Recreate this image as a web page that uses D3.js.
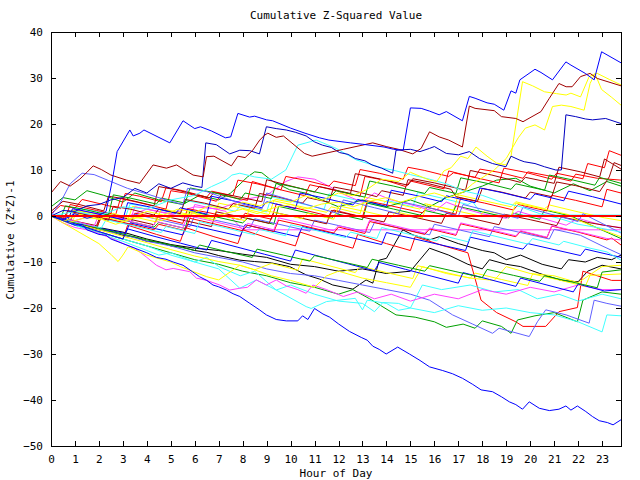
<!DOCTYPE html>
<html><head><meta charset="utf-8">
<script src="https://cdn.jsdelivr.net/npm/d3@7/dist/d3.min.js"></script>
<style>body{margin:0;background:#fff}text{font-family:"DejaVu Sans Mono",monospace;font-size:11px;fill:#000}</style>
</head><body><svg id="c" width="640" height="480"></svg>
<script>
const chartTitle = "Cumulative Z-Squared Value";
const xTitle = "Hour of Day";
const yTitle = "Cumulative (Z*Z)-1";
const hourTicks = [0,1,2,3,4,5,6,7,8,9,10,11,12,13,14,15,16,17,18,19,20,21,22,23];
const valueTicks = [-50,-40,-30,-20,-10,0,10,20,30,40];
const lastHour = 23.79;

// each series: [hour, cumulative value] vertices
const sTopBlue = [[0,0],[0.5,-0.8],[1,0.5],[1.5,-0.5],[2,0.2],[2.3,1],[2.55,7.5],[2.76,14],[3.29,18.7],[3.43,17.4],[3.71,18],[3.88,18.7],[4.96,15.9],[5.51,20.7],[6.0,19],[6.24,19.4],[6.69,18.5],[7.28,17],[7.5,17.2],[7.8,22.3],[8.29,21.5],[8.5,21.7],[9.0,20.9],[9.25,20.7],[10,19.1],[10.6,18],[11.2,17],[11.6,16.5],[12.5,15.9],[13,15.6],[13.9,15],[14.3,14.5],[14.7,14.3],[15.0,23.5],[15.45,23.4],[15.8,22.8],[16.2,22],[16.5,22.7],[17.17,20.7],[17.46,26],[17.7,25.6],[18.2,24.6],[18.5,24.3],[18.9,23],[19.2,27.2],[19.4,26.7],[19.57,29.6],[20.2,31.9],[20.45,31.2],[20.93,29.6],[21.49,33.5],[21.7,32.8],[22.3,31],[22.67,29.6],[22.98,35.7],[23.79,33.3]];
const sDarkRedTop = [[0,5],[0.4,7.5],[0.8,6.5],[1.2,8],[1.5,9.5],[1.76,10.9],[2.1,10.1],[2.5,8.9],[3.15,7.8],[3.7,7.1],[4.26,11.1],[4.82,10.4],[5.24,11.1],[5.93,8.9],[6.35,8.5],[6.49,12.9],[6.8,13],[7.53,10.9],[7.8,13],[8.1,12.7],[8.42,14.3],[8.71,16.5],[8.92,17.6],[9.05,18],[9.4,17.1],[9.7,17.4],[10.58,13.6],[10.9,13],[11.6,13.8],[12.2,14.5],[13.43,15.9],[13.99,15.1],[14.5,14.5],[15.1,13.5],[15.45,14.7],[15.8,18.3],[16.2,17.2],[16.6,16.5],[17.17,15],[17.46,23.9],[17.7,23.4],[18.5,22.9],[18.8,21.6],[19.4,21.2],[19.7,20.5],[20.45,22.7],[20.8,25.6],[21.2,28.8],[21.5,28.1],[21.75,28.1],[22.1,30.3],[22.5,31],[22.8,29.9],[23.79,28.3]];
const sYellowHigh = [[0,0],[0.6,-1],[1.2,0.4],[2,-0.8],[2.6,0.6],[3.3,-0.6],[4,1],[4.7,0.2],[5.3,1.5],[6,0.8],[6.6,2.2],[7.3,1.4],[8,3],[8.7,2.2],[9.4,3.6],[10,3],[10.6,4.4],[11.3,3.4],[12,5],[12.6,4.4],[13.2,5.8],[13.8,8],[14.5,7.5],[15,9.5],[15.8,7.8],[16.1,7.5],[16.4,9.8],[16.7,10.5],[17.1,13],[17.4,12.5],[17.74,15],[17.9,14.3],[18.2,13],[18.6,11.5],[18.99,11.1],[19.2,13],[19.68,29.2],[20.1,28.3],[20.6,27],[21.1,26.6],[21.5,26.3],[21.7,26.7],[22.1,25.9],[22.46,30.3],[22.8,31],[23.3,29.7],[23.79,28.5]];
const sYellowSecond = [[0,0],[0.7,-1.5],[1.4,-0.4],[2,-0.5],[2.7,-1.8],[3.4,-0.6],[4,0],[4.6,-1],[5.3,0.2],[6,0.5],[6.6,-0.5],[7.3,0.6],[8,1.5],[8.6,0.5],[9.3,1.8],[10,2.5],[10.6,1.5],[11.3,2.6],[12,3],[12.6,2],[13.3,3.2],[14,4],[14.6,3],[15.3,4.2],[16,5],[16.6,4],[17.2,5.2],[17.6,7],[18.5,10],[19,12.5],[19.5,17],[19.8,19.1],[20.2,19.8],[20.6,18.7],[20.93,23.8],[21.3,24.1],[21.7,23.8],[22.25,23],[22.5,28.8],[22.7,31],[22.98,27.5],[23.4,25.8],[23.79,24.1]];
const sNavy = [[0,0],[0.5,1.2],[1,1],[1.5,2.2],[2,2.5],[2.5,3.5],[3,4],[3.5,6],[4,5],[4.5,7],[5,6],[5.5,7.2],[6,6.5],[6.3,6.2],[6.46,15.9],[6.9,15.5],[7.46,13.5],[7.88,14.3],[8.3,14.2],[8.7,13.5],[8.99,19.4],[9.4,19],[9.82,18.7],[10.2,18.2],[10.65,17.4],[11,16.1],[11.33,15.4],[11.7,14.9],[12.04,13.8],[12.4,13.4],[12.7,12.5],[13.1,12],[13.4,11.1],[13.8,10.4],[14.26,9.3],[14.4,14.3],[15,14.5],[15.4,14],[15.8,14.7],[16,15.1],[16.5,13.6],[17,13.3],[17.46,14],[17.88,12.5],[18.43,11.4],[18.99,10.7],[19.2,13],[19.54,12.2],[19.75,11.8],[20.2,11.4],[20.6,10.7],[21.07,10],[21.3,10],[21.49,22],[21.9,21.6],[22.3,21.1],[22.6,20.9],[23.15,21.2],[23.79,20.1]];
const sBottomBlue = [[0,0],[0.5,-1],[1,-2],[1.3,-1.8],[1.5,-3],[2,-4],[2.3,-4.2],[2.5,-5],[3,-6],[3.5,-7],[4,-8],[4.4,-9],[4.8,-9.4],[5.1,-10],[5.51,-10.7],[5.9,-12.1],[6.2,-13.2],[6.5,-14],[6.76,-15],[7.0,-15.4],[7.32,-16.1],[7.6,-16.9],[7.88,-17.5],[8.3,-19],[8.7,-20.4],[8.99,-21.5],[9.4,-22.5],[9.82,-22.8],[10.3,-22.8],[10.5,-21.7],[10.72,-22.5],[11,-20.1],[11.35,-21.3],[11.63,-22],[12.01,-23.5],[12.46,-25.1],[12.95,-26.4],[13.2,-27],[13.43,-28.3],[13.7,-29],[13.99,-30],[14.47,-28.5],[14.96,-30],[15.4,-31.4],[15.8,-32.8],[16.35,-33.6],[16.76,-34.3],[17.18,-35.3],[17.6,-36.6],[17.95,-37.8],[18.43,-38.2],[18.8,-39.3],[19.13,-40.4],[19.4,-41],[19.68,-42],[19.96,-40.4],[20.38,-41.8],[20.8,-42.3],[21.2,-42],[21.49,-41.3],[21.7,-42.2],[21.97,-41.3],[22.32,-42.5],[22.6,-43.6],[22.88,-44.5],[23.22,-44.9],[23.46,-45.4],[23.79,-44.3]];
const sSlateEarly = [[0,0],[0.4,3],[0.8,7],[1.3,9.3],[1.8,9],[2.5,7.5],[3.2,6],[4,4.8],[4.8,3.5],[5.5,2.5],[5.7,6],[6.5,5.3],[7.2,4],[8,2.6],[8.8,1.5],[9,5],[10,3.5],[11,2],[12,0.5],[12.2,3.5],[13.5,1.8],[14.5,0.5],[14.7,3],[16,1.5],[17,0],[17.2,2.5],[18.5,0.8],[19.5,-0.5],[19.7,2],[21,0.2],[22,-1.2],[22.2,0.5],[23.79,-3.7]];
const sCyanHigh = [[0,0],[1,1],[2,0],[3,2],[4,1.5],[5,3.5],[6,4.5],[6.7,6.4],[7.3,7.8],[7.55,8.9],[7.88,9.3],[8.5,8.5],[9.2,8],[9.8,10],[10.3,15.4],[11.07,16.5],[11.9,14.7],[12.74,12.2],[13.85,10.4],[14.26,10],[15,9],[15.8,8],[16.5,7],[17.2,5.5],[18,4.5],[18.8,3],[19.6,2],[20.4,0.5],[21.2,-0.5],[22,-1.8],[22.8,-2.5],[23.79,-3.5]];
const sRedSaw = [[0,0],[0.6,-0.5],[0.8,2.5],[1.9,1.2],[2.7,0.3],[2.9,3.8],[3.6,3],[4.8,1.5],[5.0,5.5],[5.7,4.9],[6.9,3.2],[7.1,4.6],[8.2,3.4],[8.4,7.5],[9.5,5.8],[10.6,4.4],[10.8,6.8],[11.5,6],[12.9,4.3],[13.1,8.6],[14,7.7],[14.8,6.4],[15.0,7.6],[16.4,5.9],[16.6,9.8],[17.5,8.6],[18.7,7.2],[18.9,10.4],[19.8,9.5],[20.9,8],[21.1,9.3],[22.2,8.1],[22.4,11.4],[23.1,10.5],[23.3,14.2],[23.79,13.2]];
const sDarkRedSaw = [[0,1],[0.5,3.2],[1.1,2.6],[2.2,1.1],[2.4,4.3],[3.1,3.7],[4.3,2.2],[4.5,6.4],[5.3,5.6],[6.6,3.9],[6.8,5.1],[7.6,4.4],[8.8,3.1],[9.0,7.9],[9.8,6.8],[11.0,5.2],[11.2,6.4],[12.5,4.9],[12.7,9.2],[13.5,8.3],[14.9,6.7],[15.1,8.1],[16.0,7.2],[17.3,5.6],[17.5,9.9],[18.4,8.9],[19.6,7.3],[19.8,8.4],[21.0,7.1],[21.2,10.6],[22.1,9.6],[22.9,8.5],[23.1,12.4],[23.79,10.2]];
const sGreenSaw = [[0,0],[0.4,-0.5],[0.6,2.2],[1.5,1.3],[2.4,0.2],[2.6,4.6],[3.3,3.9],[4.4,2.6],[4.6,3.9],[5.6,2.8],[5.8,6.1],[6.7,5.2],[7.9,3.6],[8.1,5],[9.2,3.8],[9.4,7.1],[10.4,6],[11.7,4.4],[11.9,5.5],[13.1,4.1],[13.3,7.6],[14.3,6.5],[15.6,4.9],[15.8,6.2],[16.9,4.9],[17.1,8.3],[18.2,7.1],[19.2,5.8],[19.4,7],[20.6,5.6],[20.8,8.9],[21.8,7.8],[22.7,6.7],[22.9,8.4],[23.79,7.1]];
const sBlueSaw = [[0,0],[0.7,-0.9],[0.9,1.6],[2,0.4],[3,-0.8],[3.2,2.9],[4,2.1],[5.2,0.6],[5.4,1.8],[6.5,0.4],[6.7,4.3],[7.6,3.3],[8.8,1.8],[9,3.1],[10.2,1.6],[10.4,5],[11.4,3.9],[12.6,2.4],[12.8,3.6],[14,2.1],[14.2,5.6],[15.2,4.5],[16.3,3.1],[16.5,4.4],[17.7,2.9],[17.9,6.1],[18.9,5],[20,3.6],[20.2,4.8],[21.4,3.3],[21.6,5.4],[22.6,4.2],[23.79,2.6]];
const sCyanFlat = [[0,0],[0.8,-0.9],[1.0,1.8],[1.9,1],[3.1,-0.4],[3.3,2.6],[4.1,1.9],[5.4,0.3],[5.6,3.4],[6.5,2.5],[7.7,1],[7.9,2.2],[9,0.9],[9.2,4.2],[10.2,3],[11.4,1.5],[11.6,4.8],[12.6,3.6],[13.8,2.1],[14,3.4],[15.1,2],[15.3,5.1],[16.3,3.9],[17.4,2.5],[17.6,3.1],[18,0.2],[23.79,0.2]];
const sYellowSaw = [[0,0],[0.9,-1.1],[1.1,1.2],[2,0.4],[3.2,-1],[3.4,2.1],[4.3,1.2],[5.5,-0.3],[5.7,0.9],[6.8,-0.4],[7,2.8],[7.9,1.8],[9.1,0.3],[9.3,3.3],[10.3,2.2],[11.5,0.8],[11.7,2],[12.9,0.5],[13.1,4.1],[14.1,3],[15.4,1.5],[15.6,2.7],[16.8,1.2],[17,4.6],[18,3.4],[19.2,2],[19.4,3.1],[20.6,1.6],[20.8,2.4],[22,0.9],[23.1,-0.4],[23.79,-1]];
const sMagentaFlat = [[0,0],[0.8,-1.5],[1,1.5],[2.4,0],[3.3,-1],[3.5,2],[4.9,0.5],[5.8,-0.5],[6,2.5],[7.3,1],[8,-3],[23.79,-3]];
const sGreenMid = [[0,0],[0.9,-1.6],[1.9,-2.9],[2.1,0.2],[3.2,-1.1],[4.3,-2.4],[4.5,-1.4],[5.6,-2.7],[5.8,1.1],[6.9,-0.2],[8,-1.5],[8.2,-0.5],[9.3,-1.8],[9.5,2.1],[10.6,0.8],[11.7,-0.5],[11.9,0.5],[13,-0.8],[13.2,2.8],[14.3,1.5],[15.4,0.2],[15.6,1.2],[16.7,-0.1],[16.9,2.2],[18,0.9],[19.1,-0.4],[19.3,0.6],[20.4,-0.7],[20.6,1.3],[21.7,0],[22.8,-2.6],[23.79,-4.9]];
const sBlackMid = [[0,0],[0.5,-0.9],[1,-1.5],[1.5,-2.1],[2,-3],[2.5,-3.4],[3,-4.2],[3.5,-4.6],[4,-5.5],[4.5,-5.7],[5,-6.5],[5.5,-6.8],[6,-7.5],[6.5,-7.9],[7,-8.6],[7.88,-9.6],[8.5,-9.9],[9.2,-10.2],[9.96,-11],[10.65,-12.8],[11.2,-13.7],[11.76,-15],[12.6,-15.9],[13.15,-13.9],[13.43,-14.6],[13.7,-9.6],[14,-9.2],[14.68,-3],[15.1,-4.1],[15.8,-5.2],[16.2,-4.5],[17,-6],[18,-7.5],[18.5,-8],[19,-9.5],[19.6,-8.5],[20.5,-10.5],[21.3,-11.5],[21.6,-9.5],[22.3,-10],[22.8,-9],[23.4,-9.5],[23.79,-8.5]];
const sBlackLow = [[0,0],[1,-1.2],[2,-2.5],[3,-3.5],[4,-5],[5,-6.2],[6,-7],[7,-7.5],[8,-8.3],[9,-9],[10,-10.5],[11,-11],[12,-12],[13,-11.5],[14,-12.5],[15,-12],[15.8,-7],[16.6,-8.5],[17.4,-10.5],[18,-11.5],[18.3,-9.5],[19,-10.5],[19.6,-11],[20.4,-12.5],[21.3,-14],[22,-14.3],[22.4,-12],[23,-10.7],[23.79,-11.5]];
const sMagentaUpper = [[0,0],[1,-1],[2,0.5],[3,-0.5],[4,1.5],[5,0.5],[6,2],[7,1.5],[8,3.5],[9,4.5],[9.8,7.5],[10.3,8.5],[11,8],[11.6,6.5],[12.3,4.5],[13,3],[13.5,5],[14.2,3.5],[15,2.5],[16,1],[16.5,3],[17.3,1.5],[18,0.5],[19,-0.5],[19.5,1],[20.5,-0.5],[21.5,-2],[22,-0.5],[23,-2],[23.79,-2.5]];
const sGreenUpper = [[0,2],[0.5,4],[1,3.5],[1.5,5.5],[2.2,4.5],[3,3],[3.5,5],[4.5,3.5],[5.5,2.5],[6.2,4.5],[7,3.5],[7.5,5],[8.2,8.5],[8.5,9.6],[8.8,9.4],[9.26,7.5],[9.96,5.7],[10.7,4.9],[11.3,3.5],[12,2],[13,3.5],[14,2],[15,3.5],[15.8,2],[16.5,4],[17.4,5.5],[18,6.5],[18.6,7.8],[19.4,8.2],[20,6.5],[21,5],[21.8,7],[22.5,5.5],[23.2,7.5],[23.79,6.5]];
const sRedMid = [[0,0],[0.8,-1.1],[1,0.9],[2.1,-0.4],[3.3,-1.9],[3.5,0.6],[4.3,-0.1],[5.5,-1.6],[5.7,1.6],[6.6,0.7],[7.9,-0.8],[8.1,0.6],[9.2,-0.7],[9.4,2.6],[10.4,1.5],[11.6,0],[11.8,1.3],[13,-0.2],[13.2,3.3],[14.2,2.2],[15.5,0.7],[15.7,1.9],[16.9,0.4],[17.1,3.9],[18.1,2.8],[19.3,1.3],[19.5,2.5],[20.7,1.1],[20.9,4.5],[21.9,3.4],[23,2],[23.2,5.8],[23.79,5]];
const sRedLow = [[0,0],[1,-1.8],[2,-3.4],[3,-5],[3.2,-2],[4.4,-4],[5.4,-5.5],[5.6,-2.5],[6.8,-4.5],[7.8,-6],[8,-3],[9.2,-5],[10.2,-6.5],[10.4,-3.5],[11.6,-5.5],[12.6,-7],[12.8,-4],[14,-6],[15,-7.5],[15.2,-4.5],[16.4,-6.5],[17.4,-8],[17.95,-18.3],[18.6,-21],[19.4,-23],[19.7,-24],[20.65,-24],[21.2,-20.8],[21.97,-19.9],[22.2,-12],[22.8,-13],[23.4,-14],[23.79,-14]];
const sGreenLow = [[0,0],[1,-2],[2,-3.5],[3,-5],[4,-6.5],[5,-8],[6,-9.5],[7,-10.5],[8,-12],[9,-13],[10,-14.5],[11,-15.5],[12,-17],[12.6,-16],[13.3,-18],[14.4,-21.5],[15.2,-22],[16,-23],[16.5,-24.2],[17.2,-23.5],[17.7,-24.4],[18,-22.8],[18.8,-24],[19.2,-25.5],[19.47,-22.6],[20.2,-21.7],[21,-21],[21.97,-23],[22.2,-18.3],[23,-16.5],[23.79,-17]];
const sSlateLow = [[0,0],[1,-1.5],[2,-3],[3,-4],[4,-5.5],[5,-6.5],[6,-8],[7,-9],[8,-10],[9,-11.5],[10,-12.5],[11,-13],[12,-14],[13,-15],[14,-16],[15,-17],[15.8,-18.3],[16.76,-21.5],[17.6,-23.5],[18.43,-25.5],[18.7,-24.4],[19.96,-26.2],[20.3,-23],[20.65,-20.4],[21.5,-21.5],[22.46,-23.3],[22.67,-18.3],[23.2,-19],[23.79,-19.6]];
const sCyanLow = [[0,0],[1,-2],[2,-3.8],[3,-5.5],[4,-7.5],[4.5,-8.5],[5,-8],[6,-10],[6.5,-9],[7,-11],[7.9,-13],[8.5,-12],[9.4,-16.1],[10.65,-19.7],[10.86,-20.1],[11.5,-18.6],[12.7,-17.9],[13,-20.4],[13.2,-18.3],[14,-19],[14.5,-20.5],[15,-20],[16,-21],[17,-19.5],[18,-20.5],[19,-20],[20,-21],[21,-21.5],[22,-23],[23,-25.2],[23.2,-21.5],[23.79,-21.7]];
const sCyanLow2 = [[0,0],[1,-1.8],[2,-3.5],[3,-5],[4,-6.5],[5,-8.5],[6,-10],[7,-11.5],[7.88,-15.7],[8.57,-13.9],[9.4,-16.1],[10,-15],[11,-17],[12,-18.5],[13,-19],[13.5,-20.8],[13.85,-18.8],[14.5,-19],[15,-20],[15.5,-15],[16.3,-16],[17.5,-15],[18.5,-16.5],[19.5,-16],[20.3,-18],[21.2,-17],[22,-18.5],[23,-17],[23.79,-18]];
const sMagentaLow = [[0,0],[0.5,-1.5],[1,-2.5],[1.5,-3],[2,-3.8],[2.5,-4.8],[3.15,-6.3],[3.5,-7],[4,-9],[4.4,-10.7],[4.8,-11.7],[5.1,-11.4],[5.79,-12.1],[6.07,-13.5],[6.5,-14],[7.04,-15],[7.46,-16.1],[7.88,-15.7],[8.2,-15.5],[8.57,-13.9],[8.99,-15],[9.4,-13.9],[9.82,-15.2],[10.3,-16],[10.65,-16.8],[10.93,-15],[11.5,-16],[12.2,-17.5],[12.8,-16.5],[13.5,-18],[14.2,-17],[15,-18.5],[16,-17],[17,-18],[18,-16],[19,-17],[20,-15.5],[21,-16.5],[22,-15],[23,-16],[23.79,-16]];
const sYellowLow = [[0,0],[0.5,-1.5],[1,-3],[1.5,-4.5],[2,-6],[2.53,-8.5],[2.8,-9.9],[3.0,-8.5],[3.22,-6.7],[4,-8.5],[5,-10],[5.4,-11],[6.5,-13.2],[7,-13.9],[7.88,-10.7],[8.5,-11.7],[9.2,-13],[10,-14],[11,-15.5],[11.5,-13],[12,-12],[13,-13.5],[14,-14.5],[15,-15.5],[15.5,-11],[16.5,-12.5],[17.5,-13.5],[18.5,-14],[19,-11],[20,-12.5],[21,-13],[22,-14.5],[23,-11],[23.79,-10.7]];
const sYellowLow2 = [[0,0],[1,-1.5],[2,-3],[3,-4.4],[4,-5.8],[5,-7.3],[6,-8.7],[7,-9.9],[7.88,-10.7],[8.5,-11.7],[9.2,-10.3],[10.3,-11.8],[10.5,-9.3],[11.6,-10.8],[12.7,-12.3],[12.9,-10.9],[14,-12.3],[15.1,-13.6],[15.3,-10.8],[16.4,-12.2],[17.5,-13.5],[17.7,-12.4],[18.8,-13.8],[19.9,-15.1],[20.1,-12.6],[21.2,-13.9],[22.3,-15.3],[22.5,-12.9],[23.79,-12.6]];
const sBlueLow = [[0,0],[1,-1.7],[2,-3.4],[3,-5],[3.2,-2.8],[4.3,-4.4],[5.4,-5.9],[6.5,-7.4],[6.7,-5.3],[7.8,-6.8],[8.9,-8.3],[10,-9.8],[10.2,-7.4],[11.3,-8.9],[12.4,-10.4],[13.5,-11.9],[13.7,-10.1],[14.8,-11.6],[15.9,-13.1],[17,-14.6],[17.2,-12.3],[18.3,-13.8],[19.4,-15.3],[19.6,-13.5],[20.7,-15],[21.8,-16.5],[22,-14.8],[23.1,-16.3],[23.79,-16]];
const sBlueMid = [[0,0],[1,-1.4],[2,-2.6],[3.1,-3.8],[3.3,-1.5],[4.4,-2.8],[5.5,-4.1],[5.7,-1.8],[6.8,-3.1],[7.9,-4.4],[8.1,-1.9],[9.2,-3.2],[10.3,-4.5],[10.5,-2.3],[11.6,-3.6],[12.7,-4.9],[13.8,-6.2],[14,-3.6],[15.1,-4.9],[16.2,-6.2],[17.3,-7.5],[17.5,-4.6],[18.6,-5.9],[19.7,-7.2],[19.9,-6],[21,-7.3],[22.1,-8.6],[22.3,-7.2],[23.79,-9]];
const sSlateMid = [[0,0],[0.8,-0.9],[1,0.9],[2.1,-0.4],[3.3,-1.8],[3.5,0.4],[4.6,-0.9],[5.8,-2.3],[6,0.1],[7.1,-1.2],[8.3,-2.6],[8.5,-0.6],[9.6,-1.9],[10.8,-3.3],[11,-0.9],[12.1,-2.2],[13.3,-3.6],[13.5,-1.4],[14.6,-2.7],[15.8,-4.1],[16,-1.8],[17.1,-3.1],[18.3,-4.5],[18.5,-2.3],[19.6,-3.6],[20.8,-5],[21,-2.9],[22.1,-4.2],[23,-6.5],[23.79,-8.4]];
const sRedNeg = [[0,0],[1,-1.4],[1.9,-2.6],[2.1,-0.3],[3.1,-1.5],[4.3,-3],[4.5,-1.8],[5.6,-3.2],[5.8,-0.5],[6.8,-1.7],[8,-3.2],[8.2,-2],[9.3,-3.4],[9.5,-0.9],[10.6,-2.2],[11.8,-3.7],[12,-2.4],[13.1,-3.8],[13.3,-1.2],[14.4,-2.5],[15.6,-4],[15.8,-2.8],[16.9,-4.2],[17.1,-1.7],[18.2,-3],[19.4,-4.5],[19.6,-3.3],[20.7,-4.7],[20.9,-2.2],[22,-3.5],[23.2,-5.2],[23.4,-4.8],[23.79,-6.3]];
const sDarkRedNeg = [[0,0],[0.8,-0.9],[1.9,-2.1],[2.1,0.6],[3.2,-0.6],[4.3,-1.9],[4.5,0.2],[5.6,-1],[6.7,-2.3],[6.9,0.9],[8,-0.3],[9.1,-1.6],[9.3,0.8],[10.4,-0.4],[11.5,-1.7],[11.7,1.2],[12.8,0],[13.9,-1.3],[14.1,0.9],[15.2,-0.3],[16.3,-1.6],[16.5,0.6],[17.6,-0.6],[18.7,-1.9],[18.9,0.4],[20,-0.8],[21.1,-2.1],[21.3,-0.2],[22.4,-1.4],[23.79,-2.6]];
const sGreenNeg = [[0,0],[1,-1.4],[2,-2.7],[3,-3.9],[4,-5.2],[5,-6.3],[6,-7.5],[6.2,-6.3],[7.3,-7.7],[8.4,-9],[8.6,-7.2],[9.7,-8.5],[10.8,-9.8],[11,-8.6],[12.1,-9.9],[13.2,-11.2],[13.4,-9.4],[14.5,-10.7],[15.6,-12],[15.8,-10.8],[16.9,-12.1],[18,-13.4],[18.2,-11.6],[19.3,-12.9],[20.4,-14.2],[20.6,-13],[21.7,-14.3],[22.8,-15.6],[23,-12.2],[23.79,-11.7]];
const sCyanMid = [[0,0],[1,-1.3],[2.1,-2.6],[2.3,-0.8],[3.4,-2.1],[4.6,-3.6],[4.8,-2.3],[6,-3.8],[6.2,-1.2],[7.3,-2.6],[8.5,-4.1],[8.7,-2.9],[9.8,-4.3],[10,-1.9],[11.1,-3.2],[12.3,-4.7],[12.5,-3.5],[13.6,-4.9],[13.8,-2.5],[14.9,-3.9],[16.1,-5.4],[16.3,-4.2],[17.4,-5.6],[17.6,-3.2],[18.7,-4.6],[19.9,-6.1],[20.1,-4.9],[21.2,-6.3],[21.4,-5.5],[22.5,-7],[23.2,-7.8],[23.79,-9.6]];
const sMagentaMid = [[0,0],[0.9,-1],[1.8,-2.2],[2,0.3],[3.1,-0.9],[4.2,-2.3],[4.4,-1.2],[5.5,-2.6],[5.7,0.1],[6.8,-1.2],[8,-2.7],[8.2,-1.6],[9.3,-3],[9.5,-0.4],[10.6,-1.7],[11.8,-3.2],[12,-2.1],[13.1,-3.5],[13.3,-0.9],[14.4,-2.2],[15.6,-3.7],[15.8,-2.6],[16.9,-4],[17.1,-1.5],[18.2,-2.8],[19.4,-4.3],[19.6,-3.2],[20.7,-4.6],[20.9,-2.1],[22,-3.4],[23.2,-4.9],[23.79,-5.2]];
const sYellowMid = [[0,0],[0.7,-0.8],[0.9,1.3],[1.9,0.2],[3.1,-1.2],[3.3,0],[4.4,-1.3],[4.6,1.6],[5.6,0.5],[6.8,-0.9],[7,0.3],[8.1,-1],[8.3,1.9],[9.3,0.8],[10.5,-0.6],[10.7,0.6],[11.8,-0.7],[12,2.2],[13,1.1],[14.2,-0.3],[14.4,0.9],[15.5,-0.4],[15.7,2.5],[16.7,1.4],[17.9,0],[18.1,1.2],[19.2,-0.1],[19.4,2.8],[20.4,1.7],[21.6,0.3],[21.8,-0.5],[22.9,-2.8],[23.79,-4.5]];
const sRedUpper2 = [[0,0.5],[0.4,2.3],[1,1.7],[1.3,3.6],[2.1,2.6],[2.9,1.6],[3.1,4.9],[3.7,4.3],[4.6,3.1],[4.8,6.2],[5.5,5.5],[6.5,4.1],[6.7,5.4],[7.6,4.4],[7.8,7.8],[8.6,7],[9.6,5.7],[9.8,8.6],[10.5,7.9],[11.6,6.5],[11.8,7.6],[12.7,6.6],[12.9,10.1],[13.7,9.3],[14.7,8],[14.9,10.6],[15.6,9.9],[16.6,8.6],[16.8,9.4],[17.7,8.4],[17.9,10.2],[18.7,9.5],[19.7,8.2],[19.9,9.6],[20.7,8.8],[21.7,7.6],[21.9,9.1],[22.8,8.2],[23.79,7.8]];
const sDarkRedMid = [[0,0],[0.5,-0.7],[0.7,1.1],[1.5,0.2],[2.4,-0.9],[2.6,2.1],[3.3,1.5],[4.3,0.2],[4.5,1.5],[5.4,0.5],[5.6,3.6],[6.4,2.8],[7.4,1.5],[7.6,2.7],[8.5,1.7],[8.7,4.9],[9.5,4.1],[10.5,2.8],[10.7,4],[11.6,3],[11.8,6.3],[12.6,5.5],[13.6,4.2],[13.8,5.5],[14.7,4.5],[14.9,7.9],[15.7,7.1],[16.7,5.8],[16.9,4.2],[17.8,3.2],[18,6],[18.8,5.2],[19.8,3.9],[20,5.2],[20.9,4.2],[21.1,7.4],[21.9,6.6],[22.9,5.3],[23.3,8.5],[23.5,11.6],[23.79,11]];
const zeroLine = [[0,0],[lastHour,0]];

const seriesList = [sCyanFlat,sYellowSaw,sMagentaFlat,sGreenMid,sBlackMid,sBlackLow,sMagentaUpper,sGreenUpper,sRedMid,sRedLow,sGreenLow,sSlateLow,sCyanLow,sCyanLow2,sMagentaLow,sYellowLow,sYellowLow2,sBlueLow,sBlueMid,sSlateMid,sRedNeg,sDarkRedNeg,sGreenNeg,sCyanMid,sMagentaMid,sYellowMid,sRedUpper2,sDarkRedMid,sRedSaw,sDarkRedSaw,sGreenSaw,sBlueSaw,sSlateEarly,sCyanHigh,sYellowSecond,sYellowHigh,sNavy,sDarkRedTop,sTopBlue,sBottomBlue,zeroLine];
const seriesColors = ["#40ffff","#ffff00","#ff40ff","#00a000","#000000","#000000","#ff40ff","#00a000","#ff0000","#ff0000","#00a000","#6060ff","#40ffff","#40ffff","#ff40ff","#ffff00","#ffff00","#0000ff","#0000ff","#6060ff","#ff0000","#a00000","#00a000","#40ffff","#ff40ff","#ffff00","#ff0000","#a00000","#ff0000","#a00000","#00a000","#0000ff","#6060ff","#40ffff","#ffff00","#ffff00","#0000c0","#a00000","#0000ff","#0000ff","#ff0000"];
const seriesWidths = seriesList.map((s,i)=> i===seriesList.length-1 ? 2 : 1);

const svg = d3.select("#c");
svg.append("rect").attr("width",640).attr("height",480).attr("fill","#fff");
const L=51, R=621, T=32, B=446;
const x = d3.scaleLinear().domain([0,lastHour]).range([L,R]);
const y = d3.scaleLinear().domain([-50,40]).range([B,T]);

const plot = svg.append("g");
plot.append("defs").append("clipPath").attr("id","clip").append("rect").attr("x",L).attr("y",T).attr("width",R-L).attr("height",B-T);
const line = d3.line().x(d=>x(d[0])).y(d=>y(d[1]));
plot.append("g").attr("clip-path","url(#clip)").selectAll("path").data(seriesList).join("path")
  .attr("d",line).attr("fill","none")
  .attr("stroke",(d,i)=>seriesColors[i]).attr("stroke-width",(d,i)=>seriesWidths[i]);

function styleAxis(g){g.select(".domain").remove();g.selectAll("line").attr("stroke","#000").attr("shape-rendering","crispEdges");g.selectAll("text").attr("font-family","DejaVu Sans Mono").attr("font-size",11).attr("fill","#000");}
svg.append("g").attr("transform",`translate(0,${B})`).call(d3.axisBottom(x).tickValues(hourTicks).tickSize(-5).tickPadding(9).tickFormat(d3.format("d"))).call(styleAxis);
svg.append("g").attr("transform",`translate(0,${T})`).call(d3.axisTop(x).tickValues(hourTicks).tickSize(-5).tickFormat("")).call(styleAxis);
svg.append("g").attr("transform",`translate(${L},0)`).call(d3.axisLeft(y).tickValues(valueTicks).tickSize(-5).tickPadding(8).tickFormat(d3.format("d"))).call(styleAxis);
svg.append("g").attr("transform",`translate(${R},0)`).call(d3.axisRight(y).tickValues(valueTicks).tickSize(-5).tickFormat("")).call(styleAxis);
svg.append("rect").attr("x",L+0.5).attr("y",T+0.5).attr("width",R-L).attr("height",B-T).attr("fill","none").attr("stroke","#000").attr("stroke-width",1);

svg.append("text").attr("x",336).attr("y",19).attr("text-anchor","middle").text(chartTitle);
svg.append("text").attr("x",336).attr("y",477).attr("text-anchor","middle").text(xTitle);
svg.append("text").attr("transform","translate(14,240) rotate(-90)").attr("text-anchor","middle").text(yTitle);
</script></body></html>
